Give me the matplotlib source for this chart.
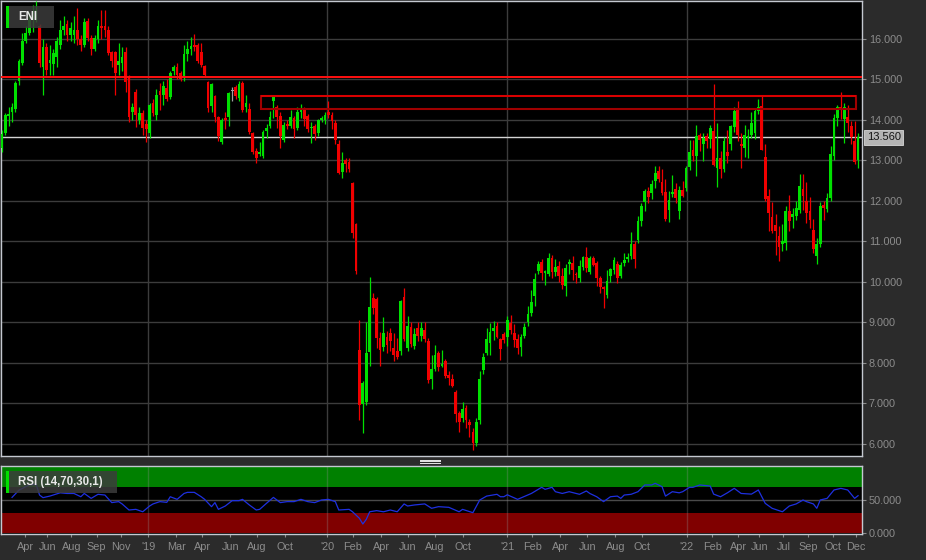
import numpy as np
import pandas as pd
import matplotlib
matplotlib.use("Agg")
import matplotlib.pyplot as plt
import matplotlib.dates as mdates
from matplotlib.patches import Rectangle
from matplotlib.lines import Line2D

# weekly candles, first week ending
first_week = "2018-03-09"

opens = [
    13.30, 13.68, 14.10, 14.18, 14.27, 14.95, 15.40, 15.95, 16.15, 16.45,
    16.55, 16.30, 15.30, 15.80, 15.40, 15.38, 15.55, 15.83, 16.20, 16.35,
    16.08, 16.10, 16.20, 15.98, 15.85, 16.44, 16.02, 15.75, 15.98, 16.32,
    16.30, 16.22, 15.66, 15.66, 15.35, 15.40, 15.66, 15.06, 14.20, 14.67,
    14.00, 14.17, 13.90, 13.68, 14.42, 14.12, 14.70, 14.60, 14.79, 14.57,
    15.20, 15.30, 15.15, 15.07, 15.63, 15.75, 15.85, 15.85, 15.66, 15.32,
    14.93, 14.34, 14.58, 14.07, 13.45, 14.05, 14.07, 14.70, 14.81, 14.53,
    14.90, 14.32, 14.27, 13.66, 13.22, 13.15, 13.10, 13.72, 13.85, 14.45,
    14.32, 14.10, 13.51, 13.90, 13.84, 14.04, 13.80, 14.20, 14.25, 14.10,
    13.80, 13.84, 13.68, 14.00, 14.00, 14.20, 14.12, 13.92, 13.39, 12.70,
    13.00, 12.95, 12.43, 11.43, 8.32, 6.98, 7.04, 8.26, 9.60, 9.58,
    8.61, 8.40, 8.63, 8.74, 8.37, 8.28, 8.28, 9.62, 8.36, 8.88,
    8.41, 8.85, 8.65, 8.80, 8.53, 7.61, 7.85, 8.23, 7.92, 8.04,
    7.70, 7.61, 7.28, 6.75, 6.63, 6.89, 6.55, 6.30, 6.02, 6.59,
    7.81, 8.24, 8.49, 8.78, 8.90, 8.58, 8.70, 8.64, 8.98, 8.73,
    8.59, 8.40, 8.67, 9.00, 9.24, 9.66, 10.26, 10.48, 10.22, 10.20,
    10.59, 10.23, 10.38, 10.13, 9.89, 10.45, 10.46, 10.20, 10.09, 10.37,
    10.61, 10.23, 10.59, 10.46, 10.09, 9.88, 9.68, 10.13, 10.28, 10.45,
    10.13, 10.47, 10.55, 10.63, 10.94, 11.02, 11.49, 11.96, 12.23, 12.19,
    12.48, 12.73, 12.45, 12.21, 11.78, 12.16, 12.29, 11.74, 12.26, 12.31,
    12.83, 13.24, 13.11, 13.63, 13.41, 13.60, 13.52, 13.71, 12.81, 13.06,
    12.78, 13.20, 13.41, 13.82, 14.23, 13.40, 13.30, 13.55, 13.61, 13.66,
    14.21, 14.33, 13.08, 12.11, 11.60, 11.41, 11.12, 10.92, 10.96, 11.74,
    11.60, 11.63, 11.78, 12.29, 11.99, 11.74, 11.27, 10.64, 10.92, 11.90,
    11.80, 12.07, 13.11, 14.04, 14.32, 14.02, 14.07, 13.85, 13.47, 13.01,
]
highs = [
    13.75, 14.17, 14.30, 14.40, 14.95, 15.50, 16.15, 16.30, 16.65, 16.84,
    16.92, 16.35, 16.00, 15.90, 15.85, 15.75, 16.05, 16.45, 16.55, 16.45,
    16.40, 16.55, 16.75, 16.10, 16.50, 16.50, 16.10, 16.10, 16.45, 16.70,
    16.70, 16.30, 15.70, 15.70, 15.90, 15.80, 15.80, 15.10, 14.40, 14.75,
    14.30, 14.25, 14.00, 14.40, 14.50, 14.75, 14.90, 14.95, 15.00, 15.20,
    15.35, 15.40, 15.20, 15.85, 15.95, 16.05, 16.12, 15.90, 15.90, 15.35,
    14.95, 14.90, 14.62, 14.10, 14.05, 14.20, 14.68, 14.80, 14.85, 14.96,
    14.95, 14.62, 14.40, 13.70, 13.30, 13.45, 13.75, 13.90, 14.22, 14.62,
    14.35, 14.20, 13.95, 14.00, 14.25, 14.10, 14.30, 14.38, 14.30, 14.15,
    13.95, 13.90, 14.02, 14.10, 14.20, 14.45, 14.18, 14.00, 13.50, 13.20,
    13.05, 13.05, 12.45, 11.45, 9.06, 7.55, 9.00, 10.12, 9.72, 9.62,
    8.75, 9.13, 8.78, 8.85, 8.74, 8.62, 9.55, 9.85, 9.15, 9.00,
    8.85, 9.00, 9.00, 9.00, 8.60, 8.18, 8.45, 8.28, 8.32, 8.10,
    7.80, 7.72, 7.32, 6.80, 7.04, 6.95, 6.62, 6.40, 6.65, 7.79,
    8.24, 8.85, 8.97, 9.02, 9.00, 8.62, 8.75, 9.16, 9.19, 8.96,
    8.70, 8.70, 8.98, 9.40, 9.80, 10.21, 10.50, 10.55, 10.30, 10.70,
    10.65, 10.56, 10.50, 10.34, 10.45, 10.55, 10.63, 10.25, 10.53, 10.64,
    10.86, 10.63, 10.63, 10.50, 10.15, 9.90, 10.30, 10.35, 10.60, 10.50,
    10.48, 10.70, 10.70, 11.22, 11.00, 11.61, 11.94, 12.30, 12.35, 12.50,
    12.85, 12.85, 12.77, 12.54, 12.23, 12.64, 12.44, 12.37, 12.48, 12.85,
    13.50, 13.50, 13.88, 13.67, 13.67, 13.68, 13.88, 14.89, 13.92, 13.22,
    13.57, 13.75, 13.88, 14.31, 14.45, 13.67, 13.88, 13.77, 14.18, 14.29,
    14.51, 14.62, 13.41, 12.29, 11.96, 11.66, 11.37, 11.43, 11.88, 12.15,
    11.82, 11.99, 12.67, 12.67, 12.46, 12.10, 11.55, 11.08, 11.96, 11.99,
    12.19, 13.36, 14.13, 14.35, 14.68, 14.41, 14.37, 13.96, 13.96, 13.66,
]
lows = [
    13.20, 13.63, 13.85, 13.95, 14.20, 14.85, 15.35, 15.90, 16.10, 16.17,
    16.40, 15.30, 14.62, 15.10, 15.10, 15.10, 15.31, 15.75, 16.10, 15.95,
    15.95, 15.90, 15.85, 15.70, 15.80, 15.95, 15.60, 15.70, 15.90, 16.00,
    16.05, 15.60, 15.30, 14.62, 15.10, 15.20, 14.67, 13.93, 14.00, 13.83,
    13.90, 13.63, 13.46, 13.55, 14.10, 14.00, 14.25, 14.35, 14.45, 14.50,
    15.10, 15.00, 14.95, 14.95, 15.45, 15.60, 15.70, 15.40, 15.30, 15.05,
    14.20, 14.20, 13.94, 13.48, 13.40, 13.76, 13.85, 14.45, 14.50, 14.45,
    14.20, 14.18, 13.65, 13.15, 12.94, 13.10, 13.05, 13.55, 13.80, 14.05,
    13.80, 13.30, 13.45, 13.76, 13.80, 13.55, 13.75, 14.05, 13.85, 13.70,
    13.43, 13.50, 13.60, 13.95, 13.90, 14.05, 13.76, 13.39, 12.65, 12.55,
    12.70, 12.70, 11.08, 10.20, 6.60, 6.27, 6.95, 7.92, 9.20, 8.37,
    7.92, 8.30, 8.25, 8.30, 8.04, 8.10, 8.20, 8.55, 8.30, 8.40,
    8.35, 8.55, 8.55, 8.52, 7.50, 7.35, 7.80, 7.80, 7.90, 7.63,
    7.45, 7.40, 6.54, 6.30, 6.55, 6.40, 6.18, 5.85, 5.95, 6.50,
    7.72, 8.20, 8.20, 8.57, 8.60, 8.08, 8.50, 8.42, 8.70, 8.40,
    8.22, 8.16, 8.60, 8.90, 9.16, 9.39, 10.20, 10.05, 9.93, 10.15,
    10.10, 10.15, 10.00, 9.82, 9.66, 10.20, 10.05, 9.97, 10.00, 10.30,
    10.25, 10.20, 10.38, 9.89, 9.72, 9.35, 9.60, 10.00, 10.20, 9.98,
    10.10, 10.38, 10.48, 10.55, 10.34, 10.95, 11.38, 11.74, 11.95, 12.04,
    12.31, 12.45, 12.15, 11.49, 11.47, 12.10, 11.94, 11.55, 12.08, 12.25,
    12.75, 12.97, 12.60, 13.22, 12.97, 13.30, 13.30, 12.85, 12.34, 12.56,
    12.70, 12.93, 13.26, 13.70, 13.47, 12.81, 13.08, 13.06, 13.55, 13.52,
    14.15, 13.25, 12.00, 11.25, 11.20, 10.67, 10.50, 10.75, 10.79, 11.25,
    11.33, 11.53, 11.70, 11.76, 11.45, 11.33, 10.71, 10.45, 10.85, 11.53,
    11.71, 12.00, 13.00, 13.85, 14.02, 13.43, 13.69, 13.39, 12.91, 12.81,
]
closes = [
    13.65, 14.12, 14.15, 14.30, 14.90, 15.45, 15.95, 16.15, 16.45, 16.55,
    16.70, 15.41, 15.80, 15.23, 15.48, 15.65, 15.93, 16.20, 16.30, 16.10,
    16.25, 16.20, 15.98, 15.85, 16.42, 16.02, 15.75, 16.02, 16.32, 16.25,
    16.20, 15.65, 15.44, 15.16, 15.45, 15.55, 14.94, 14.07, 14.30, 14.12,
    14.17, 13.80, 13.78, 14.37, 14.17, 14.62, 14.60, 14.82, 14.52, 15.16,
    15.30, 15.11, 15.00, 15.63, 15.75, 15.82, 15.80, 15.44, 15.36, 15.11,
    14.29, 14.88, 14.07, 13.60, 14.00, 13.98, 14.65, 14.70, 14.58, 14.88,
    14.25, 14.40, 13.69, 13.20, 13.05, 13.20, 13.69, 13.80, 14.07, 14.58,
    14.07, 13.60, 13.88, 13.84, 14.07, 13.76, 14.20, 14.25, 14.02, 13.76,
    13.83, 13.64, 13.99, 14.05, 14.12, 14.12, 13.96, 13.51, 12.69, 12.93,
    12.90, 12.79, 11.21, 10.26, 6.96, 7.50, 8.24, 9.37, 9.35, 8.62,
    8.32, 8.74, 8.45, 8.53, 8.20, 8.15, 9.52, 8.59, 8.90, 8.47,
    8.72, 8.65, 8.86, 8.58, 7.57, 7.84, 8.18, 7.90, 7.98, 7.67,
    7.63, 7.43, 6.73, 6.54, 6.87, 6.59, 6.47, 6.02, 6.55, 7.60,
    8.14, 8.58, 8.75, 8.86, 8.64, 8.34, 8.57, 9.06, 8.82, 8.57,
    8.36, 8.63, 8.88, 9.21, 9.49, 10.07, 10.45, 10.21, 10.26, 10.59,
    10.23, 10.36, 10.13, 9.93, 10.34, 10.47, 10.30, 10.16, 10.38, 10.61,
    10.34, 10.59, 10.42, 10.09, 9.86, 9.82, 10.03, 10.31, 10.54, 10.09,
    10.42, 10.54, 10.61, 10.94, 10.56, 11.49, 11.86, 12.23, 12.09, 12.42,
    12.68, 12.54, 12.19, 11.55, 12.01, 12.21, 12.07, 12.27, 12.12, 12.81,
    13.20, 13.11, 13.59, 13.51, 13.55, 13.48, 13.80, 12.89, 13.06, 12.77,
    13.47, 13.10, 13.84, 14.21, 13.61, 13.34, 13.61, 13.60, 13.92, 14.21,
    14.30, 13.26, 12.03, 11.70, 11.25, 11.25, 10.86, 11.00, 11.74, 11.49,
    11.66, 11.82, 12.36, 12.11, 11.70, 11.53, 10.81, 10.92, 11.86, 11.82,
    12.07, 13.14, 14.04, 14.32, 14.23, 14.30, 13.92, 13.57, 12.95, 13.56,
]

# RSI(14): week number -> value
rsi_week = [
    3, 5, 8, 10, 11, 12, 14, 17, 19, 21, 23, 24, 26, 28, 30, 32, 34, 35, 37, 39,
    41, 43, 44, 46, 48, 49, 51, 53, 54, 56, 58, 59, 61, 62, 63, 65, 67, 69, 70, 72,
    74, 75, 77, 79, 81, 83, 85, 87, 89, 91, 93, 95, 97, 98, 101, 102, 104, 105, 106, 107,
    109, 111, 113, 115, 117, 118, 120, 123, 125, 127, 130, 133, 134, 137, 139, 141, 144, 145, 146, 147,
    150, 154, 157, 158, 160, 161, 163, 165, 168, 170, 171, 173, 175, 177, 179, 180, 181, 183, 185, 187,
    189, 190, 192, 193, 195, 197, 198, 200, 201, 203, 206, 207, 209, 211, 213, 215, 218, 220, 222, 224,
    227, 229, 231, 233, 234, 236, 237, 238, 240, 242, 244, 246, 248, 249,
]
rsi_value = [
    54, 65, 73, 74, 57.6, 53.6, 56, 61, 60, 60, 55, 60, 52.5, 58.7, 57.6, 46, 47.5, 44, 34.7, 35.7,
    32, 40.8, 44, 47.5, 46.4, 55, 51, 60, 61.7, 61.7, 55, 51, 39.8, 46, 35.7, 40.8, 49, 49, 51, 42.4,
    34.7, 35.7, 45, 54, 46, 47.5, 47.5, 51, 47.5, 46, 50, 51, 47.5, 34.7, 35.7, 32, 22, 13.3, 20.4, 32,
    33.7, 32, 34.7, 32, 44, 40.8, 42.4, 44, 37.3, 39.8, 38.8, 32, 35.7, 30.6, 50, 56, 58.7, 55, 55, 58,
    51, 60, 69.4, 66.3, 69.4, 62.7, 60, 62.7, 58.7, 63.8, 60, 55, 47.5, 55, 56, 52.5, 57.6, 58.7, 62.7, 73,
    73, 75.5, 70.4, 56, 62.7, 61, 62.7, 69.4, 69.4, 73, 71.4, 59, 55, 61, 67.8, 60, 59, 65.3, 44.9, 37.3,
    32, 40.8, 44, 50, 47.5, 44, 37.3, 50, 52.5, 65.3, 67.8, 65.3, 52.5, 56.6,
]

resistance = 15.06
zone_start, zone_end = "2019-08-18", "2022-12-11"
zone_low, zone_high = 14.27, 14.59

tick_dates = [
    "2018-04-26", "2018-06-10", "2018-07-29", "2018-09-18", "2018-11-06",
    "2019-01-01", "2019-02-27", "2019-04-21", "2019-06-17", "2019-08-11", "2019-10-07",
    "2020-01-01", "2020-02-22", "2020-04-19", "2020-06-13", "2020-08-07", "2020-10-03",
    "2021-01-01", "2021-02-21", "2021-04-19", "2021-06-13", "2021-08-09", "2021-10-03",
    "2022-01-01", "2022-02-22", "2022-04-16", "2022-05-29", "2022-07-17", "2022-09-06",
    "2022-10-25", "2022-12-11",
]
tick_labels = [
    "Apr", "Jun", "Aug", "Sep", "Nov",
    "'19", "Mar", "Apr", "Jun", "Aug", "Oct",
    "'20", "Feb", "Apr", "Jun", "Aug", "Oct",
    "'21", "Feb", "Apr", "Jun", "Aug", "Oct",
    "'22", "Feb", "Apr", "Jun", "Jul", "Sep", "Oct", "Dec",
]
year_lines = ["2019-01-01", "2020-01-01", "2021-01-01", "2022-01-01"]

plt.rcParams["font.family"] = ["Liberation Sans", "DejaVu Sans"]

W, H = 926, 560
BG = "#2b2b2b"
GRID = "#3c3c3c"
TXT = "#8c8c8c"
SPINE = "#c4c8d0"
UP, DOWN, FLAT = "#00e000", "#f00000", "#a0a0a0"


def rect(x0, y0, x1, y1):
    # pixel box (top-left origin) -> figure fraction
    return [x0 / W, 1 - y1 / H, (x1 - x0) / W, (y1 - y0) / H]


fig = plt.figure(figsize=(W / 100, H / 100), dpi=100, facecolor=BG)
ax = fig.add_axes(rect(0.5, 0.5, 862, 456))
rx = fig.add_axes(rect(0.5, 466, 862, 534))

xmin = mdates.datestr2num("2018-03-06 12:00")
xmax = mdates.datestr2num("2022-12-24")

for a in (ax, rx):
    a.set_facecolor("black")
    a.set_xlim(xmin, xmax)
    for s in a.spines.values():
        s.set_color(SPINE)
        s.set_linewidth(1)
    a.yaxis.tick_right()
    a.tick_params(axis="y", colors=TXT, labelcolor=TXT, labelsize=7.8,
                  length=3, width=0.8, pad=2)

# main candle panel
dates = pd.date_range(first_week, periods=len(closes), freq="7D")
xd = mdates.date2num(dates)
o, h, l, c = (np.array(v) for v in (opens, highs, lows, closes))
col = np.where(c > o, UP, np.where(c < o, DOWN, FLAT))

ax.set_ylim(5.70, 16.94)
ax.set_yticks(range(6, 17))
ax.set_yticklabels([f"{v:.3f}" for v in range(6, 17)])
ax.grid(axis="y", color=GRID, lw=1)
ax.set_axisbelow(True)
for yl in year_lines:
    ax.axvline(mdates.datestr2num(yl), color=GRID, lw=1, zorder=1)
ax.tick_params(axis="x", length=0, labelbottom=False)

ax.vlines(xd, l, h, colors=col, lw=0.9, zorder=3)
ax.bar(xd, np.maximum(np.abs(c - o), 0.025), bottom=np.minimum(o, c),
       width=5.6, color=col, linewidth=0, zorder=4)

ax.axhline(resistance, color="#ff1010", lw=1.4, zorder=5)
ax.axhline(c[-1], color="#d4d4d4", lw=1, zorder=2)
zs, ze = mdates.datestr2num(zone_start), mdates.datestr2num(zone_end)
ax.add_patch(Rectangle((zs, zone_low), ze - zs, zone_high - zone_low, fill=False,
                       edgecolor="#a00000", lw=1.5, zorder=5))
ax.hlines(zone_high, zs, ze, color="#e00000", lw=1.3, zorder=6)

ax.annotate(f"{c[-1]:.3f}", xy=(1, c[-1]), xycoords=("axes fraction", "data"),
            xytext=(3.5, 0), textcoords="offset points", ha="left", va="center",
            fontsize=8, color="#151515", annotation_clip=False,
            bbox=dict(boxstyle="square,pad=0.22", fc="#b4b4b4", ec="#d8d8d8", lw=0.6))

# RSI panel
rsi_dates = pd.Timestamp(first_week) + pd.to_timedelta(np.array(rsi_week) * 7, unit="D")
rx.set_ylim(-2, 102)
rx.axhspan(70, 100, color="#008000", lw=0, zorder=1)
rx.axhspan(0, 30, color="#800000", lw=0, zorder=1)
rx.axhline(50, color="#4a4a4a", lw=1, zorder=2)
for yl in year_lines:
    rx.axvline(mdates.datestr2num(yl), color="#909090", alpha=0.3, lw=1, zorder=2)
rx.plot(rsi_dates, rsi_value, color="#1e30e0", lw=0.9, zorder=3)
rx.set_yticks([0, 50])
rx.set_yticklabels(["0.000", "50.000"])
rx.set_xticks(mdates.datestr2num(tick_dates))
rx.set_xticklabels(tick_labels)
rx.tick_params(axis="x", colors=TXT, labelcolor=TXT, labelsize=7.8,
               length=2.5, width=0.8, pad=3)

# labels in the panel corners
for x0, y0, x1, y1, label in [(6, 6, 54, 28, "ENI"), (6, 471, 117, 493, "RSI (14,70,30,1)")]:
    fig.add_artist(Rectangle(rect(x0, y0, x1, y1)[:2], (x1 - x0) / W, (y1 - y0) / H,
                             transform=fig.transFigure, fc="#3c3c3c", alpha=0.85,
                             lw=0, zorder=10))
    fig.add_artist(Rectangle(rect(x0, y0, x0 + 3, y1)[:2], 3 / W, (y1 - y0) / H,
                             transform=fig.transFigure, fc="#00e000", lw=0, zorder=11))
    fig.text((x0 + 12) / W, 1 - (y0 + y1) / 2 / H, label, color="#e8e8e8",
             fontsize=8.3, fontweight="bold", va="center", ha="left", zorder=12)

# drag handle between the panels
for yy in (459.5, 461, 462.5):
    fig.add_artist(Line2D([420 / W, 440 / W], [1 - yy / H] * 2, color="#e6e6e6",
                          lw=0.7, transform=fig.transFigure))

fig.savefig("out.png", dpi=100, facecolor=fig.get_facecolor())
